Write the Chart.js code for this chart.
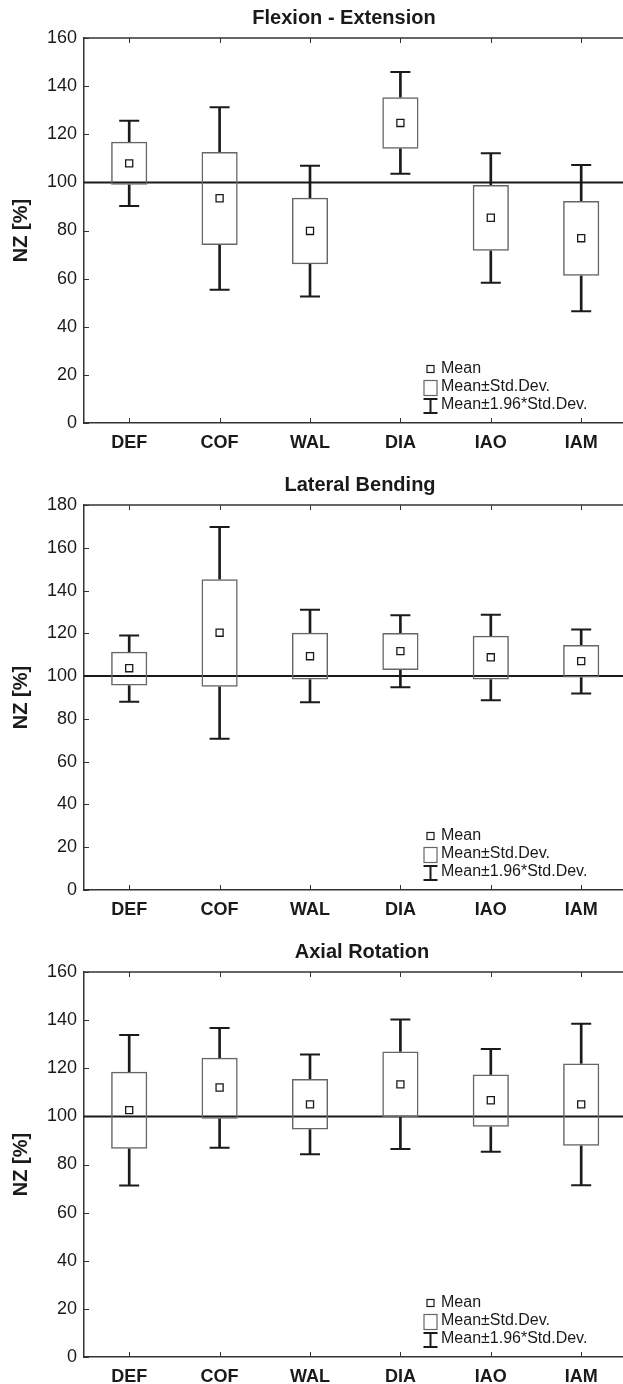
<!DOCTYPE html>
<html>
<head>
<meta charset="utf-8">
<script src="https://cdn.jsdelivr.net/npm/chart.js@4/dist/chart.umd.min.js"></script>
<style>
  html, body { margin: 0; padding: 0; background: #fff; overflow: hidden; }
  #wrap { position: relative; width: 623px; height: 1384px; overflow: hidden; }
  canvas { position: absolute; left: 0; }
</style>
</head>
<body>
<div id="wrap">
  <canvas id="c0" width="640" height="467" style="top:0"></canvas>
  <canvas id="c1" width="640" height="467" style="top:467px"></canvas>
  <canvas id="c2" width="640" height="467" style="top:934px"></canvas>
</div>
<script>
const categories = ['DEF', 'COF', 'WAL', 'DIA', 'IAO', 'IAM'];

// Flexion - Extension
const flexMean   = [107.9, 93.4, 79.8, 124.7, 85.3, 76.8];
const flexSdLow  = [99.0, 74.0, 66.0, 114.0, 71.6, 61.2];
const flexSdHigh = [116.9, 112.6, 93.6, 135.4, 98.9, 92.3];
const flexCiLow  = [90.2, 55.4, 52.6, 103.6, 58.3, 46.4];
const flexCiHigh = [125.6, 131.2, 106.9, 145.9, 112.1, 107.2];

// Lateral Bending
const latMean   = [103.7, 120.3, 109.3, 111.7, 108.8, 107.0];
const latSdLow  = [95.6, 95.0, 98.4, 102.9, 98.4, 99.3];
const latSdHigh = [111.4, 145.3, 120.3, 120.1, 118.9, 114.5];
const latCiLow  = [88.0, 70.7, 87.8, 94.8, 88.7, 91.9];
const latCiHigh = [119.0, 169.7, 131.0, 128.4, 128.7, 121.8];

// Axial Rotation
const axMean   = [102.6, 112.0, 105.0, 113.3, 106.7, 105.0];
const axSdLow  = [86.5, 99.0, 94.5, 99.6, 95.7, 87.8];
const axSdHigh = [118.5, 124.4, 115.5, 127.0, 117.4, 122.0];
const axCiLow  = [71.3, 87.0, 84.3, 86.4, 85.3, 71.4];
const axCiHigh = [133.8, 136.7, 125.7, 140.3, 128.0, 138.5];

const refValue = 100;
const legendLabels = ['Mean', 'Mean\u00b1Std.Dev.', 'Mean\u00b11.96*Std.Dev.'];

const FONT = '"Liberation Sans", Arial, Helvetica, sans-serif';
const AXIS = '#333';
const INK = '#1a1a1a';
const BOXLINE = '#666';

// reference line at 100, top frame line and inward ticks
const framePlugin = {
  id: 'frame',
  beforeDatasetsDraw(chart) {
    const { ctx, chartArea: a, scales } = chart;
    ctx.save();
    ctx.strokeStyle = AXIS;
    ctx.lineWidth = 1.5;
    ctx.beginPath();
    ctx.moveTo(a.left, a.top);
    ctx.lineTo(a.right, a.top);
    ctx.stroke();

    ctx.lineWidth = 1;
    ctx.beginPath();
    scales.y.ticks.forEach((t, i) => {
      const y = Math.round(scales.y.getPixelForTick(i)) + 0.5;
      ctx.moveTo(a.left, y);
      ctx.lineTo(a.left + 5, y);
    });
    scales.x.ticks.forEach((t, i) => {
      const x = Math.round(scales.x.getPixelForTick(i)) + 0.5;
      ctx.moveTo(x, a.top);
      ctx.lineTo(x, a.top + 5);
      ctx.moveTo(x, a.bottom);
      ctx.lineTo(x, a.bottom - 5);
    });
    ctx.stroke();

    const yr = scales.y.getPixelForValue(refValue);
    ctx.strokeStyle = INK;
    ctx.lineWidth = 2;
    ctx.beginPath();
    ctx.moveTo(a.left, yr);
    ctx.lineTo(a.right, yr);
    ctx.stroke();
    ctx.restore();
  },
  afterDraw(chart, args, opts) {
    const { ctx } = chart;
    ctx.save();
    ctx.fillStyle = INK;
    ctx.font = 'bold 20px ' + FONT;
    ctx.textAlign = 'center';
    ctx.textBaseline = 'middle';
    ctx.fillText(opts.title, opts.titleX, 18);

    // legend
    const lx = 430.5;
    ctx.strokeStyle = INK;
    ctx.lineWidth = 1.2;
    ctx.fillStyle = '#fff';
    ctx.fillRect(lx - 3.5, 365.5, 7, 7);
    ctx.strokeRect(lx - 3.5, 365.5, 7, 7);
    ctx.strokeStyle = BOXLINE;
    ctx.strokeRect(lx - 6.5, 380.5, 13, 15);
    ctx.strokeStyle = INK;
    ctx.lineWidth = 2;
    ctx.beginPath();
    ctx.moveTo(lx, 399); ctx.lineTo(lx, 413);
    ctx.moveTo(lx - 7, 399); ctx.lineTo(lx + 7, 399);
    ctx.moveTo(lx - 7, 413); ctx.lineTo(lx + 7, 413);
    ctx.stroke();

    ctx.fillStyle = INK;
    ctx.font = '16px ' + FONT;
    ctx.textAlign = 'left';
    legendLabels.forEach((s, i) => ctx.fillText(s, 441, 369 + i * 18));
    ctx.restore();
  }
};

function makePanel(id, title, titleX, yMax, mean, sdLow, sdHigh, ciLow, ciHigh) {
  const boxes = sdLow.map((v, i) => [v, sdHigh[i]]);
  const upper = sdHigh.map((v, i) => [v, ciHigh[i]]);
  const lower = ciLow.map((v, i) => [v, sdLow[i]]);

  new Chart(document.getElementById(id), {
    type: 'bar',
    data: {
      labels: categories,
      datasets: [
        { data: upper, backgroundColor: INK, barThickness: 2, grouped: false, order: 5 },
        { data: lower, backgroundColor: INK, barThickness: 2, grouped: false, order: 5 },
        {
          data: boxes, backgroundColor: 'rgba(255,255,255,0)', borderColor: BOXLINE,
          borderWidth: 1.5, borderSkipped: false, barPercentage: 0.4, categoryPercentage: 1,
          grouped: false, order: 4
        },
        {
          type: 'line', data: ciHigh, showLine: false, pointStyle: 'line', pointRadius: 10,
          pointBorderColor: INK, pointBorderWidth: 2, order: 3
        },
        {
          type: 'line', data: ciLow, showLine: false, pointStyle: 'line', pointRadius: 10,
          pointBorderColor: INK, pointBorderWidth: 2, order: 3
        },
        {
          type: 'line', data: mean, showLine: false, pointStyle: 'rect', pointRadius: 5,
          pointBackgroundColor: '#fff', pointBorderColor: INK, pointBorderWidth: 1.3, order: 1
        }
      ]
    },
    options: {
      responsive: false,
      animation: false,
      events: [],
      layout: { padding: { top: 38, right: 13.6, left: 0, bottom: 0 } },
      plugins: {
        legend: { display: false },
        title: { display: false },
        tooltip: { enabled: false },
        frame: { title: title, titleX: titleX }
      },
      scales: {
        x: {
          grid: { drawOnChartArea: false, drawTicks: false },
          border: { color: AXIS, width: 1.5 },
          ticks: { color: INK, font: { family: FONT, size: 18, weight: 'bold' }, padding: 9 },
          afterFit(scale) { scale.height = 44; }
        },
        y: {
          min: 0, max: yMax,
          grid: { drawOnChartArea: false, drawTicks: false },
          border: { color: AXIS, width: 1.5 },
          ticks: { stepSize: 20, color: INK, font: { family: FONT, size: 18 }, padding: 7 },
          title: { display: true, text: 'NZ [%]', color: INK, font: { family: FONT, size: 20, weight: 'bold' }, padding: { top: 9, bottom: 0 } },
          afterFit(scale) { scale.width = 84; }
        }
      }
    },
    plugins: [framePlugin]
  });
}

makePanel('c0', 'Flexion - Extension', 344, 160, flexMean, flexSdLow, flexSdHigh, flexCiLow, flexCiHigh);
makePanel('c1', 'Lateral Bending', 360, 180, latMean, latSdLow, latSdHigh, latCiLow, latCiHigh);
makePanel('c2', 'Axial Rotation', 362, 160, axMean, axSdLow, axSdHigh, axCiLow, axCiHigh);
</script>
</body>
</html>
